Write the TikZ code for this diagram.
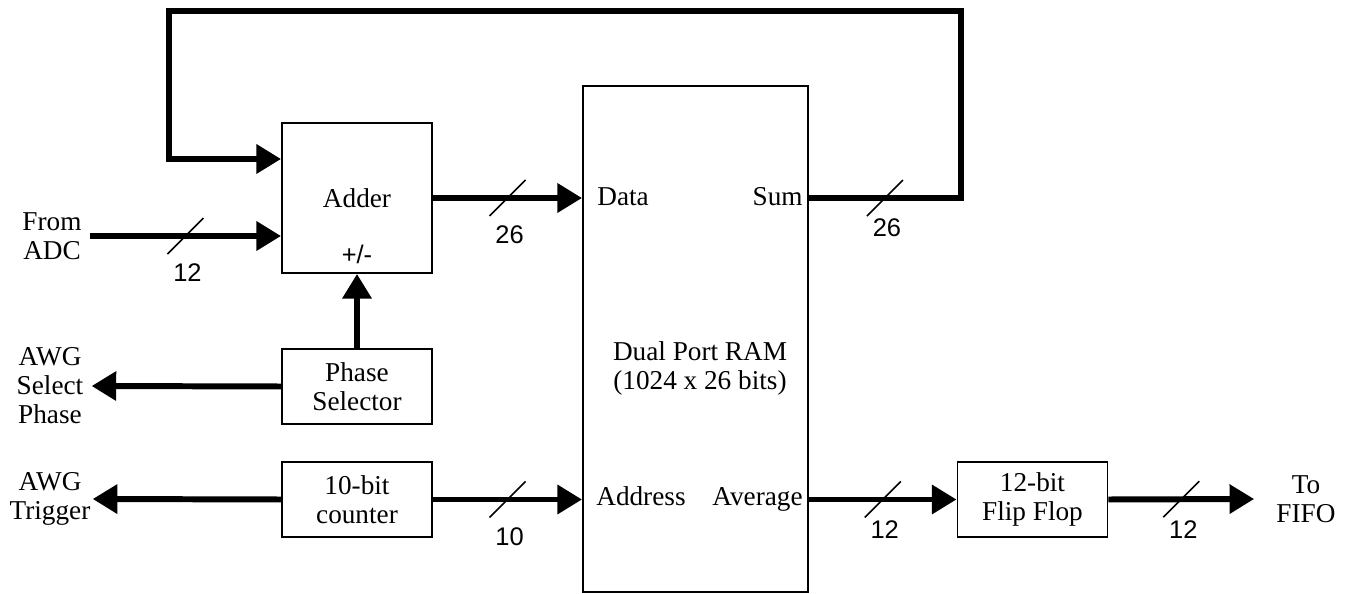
\documentclass[tikz,border=0pt]{standalone}
\usepackage{fontspec}
\setmainfont{Liberation Serif}
\newfontfamily\numfont{Liberation Sans}
\usetikzlibrary{arrows.meta}
\usetikzlibrary{calc}

\begin{document}
\begin{tikzpicture} [x=0.02cm, y=-0.02cm,
  txt/.style={font=\fontsize{15.5}{16.5}\selectfont, align=center, inner sep=0pt},
  box/.style={txt, draw, line width=1.1pt, minimum width=3cm, minimum height=1.5cm},
  bus/.style={line width=3.4pt, -{Triangle[length=14pt,width=16pt]}},
  tick/.style={line width=0.9pt},
  num/.style={font=\numfont\fontsize{14.5}{16}\selectfont, inner sep=0pt}]
\useasboundingbox (0,0) rectangle (1347,594);
% blocks
\node[box, minimum height=3cm] (adder) at (357,198) {Adder};
\node[num] (pm) at (357,254) {+/-};
\node[box] (phase) at (357,386.5) {Phase\\Selector};
\node[box] (counter) at (357,499.5) {10-bit\\counter};
\node[box, minimum width=4.5cm, minimum height=10.12cm] (ram) at (695.5,339) {};
\node[box] (ff) at (1032.5,499.5) {12-bit\\Flip Flop};
% port names and memory text
\node[txt, anchor=base west] (datalbl) at (597,206) {Data};
\node[txt, anchor=base east] (sumlbl) at (803,206) {Sum};
\node[txt, anchor=base west] (addrlbl) at (596,506) {Address};
\node[txt, anchor=base east] (avglbl) at (803,506) {Average};
\node[txt] (ramlbl) at (700,368) {Dual Port RAM\\(1024 x 26 bits)};
% outside signals
\node[txt] (adc) at (52,236) {From\\ADC};
\node[txt] (awgsel) at (50,386) {AWG\\Select\\Phase};
\node[txt] (awgtrg) at (50,499) {AWG\\Trigger};
\node[txt] (fifo) at (1306,499) {To\\FIFO};
\coordinate (ret) at (169,11);
\coordinate (fbin) at ($(adder.west)+(0,-39)$);
% buses
\draw[bus] ($(adc.east)+(8,0)$) -- coordinate (b1) (adc.east -| adder.west);
\draw[bus] (adder.east) -- coordinate (b2) (ram.west |- adder.east);
\draw[bus] (ram.east |- adder.east) -- coordinate (b3) ++(152,0) |- (ret) |- (fbin);
\draw[bus] (counter.east) -- coordinate (b4) (ram.west |- counter.east);
\draw[bus] (ram.east |- ff.west) -- coordinate (b5) (ff.west);
\draw[bus] (ff.east) -- coordinate (b6) ($(fifo.west)+(-22,0)$);
\draw[bus] (phase.north) -- (adder.south);
\draw[bus] (phase.west) -- ($(awgsel.east)+(8,0)$);
\draw[bus] (counter.west) -- ($(awgtrg.east)+(2,0)$);
% bus widths
\foreach \m/\n/\d in {b1/12/37, b2/26/37, b3/26/30, b4/10/37, b5/12/30, b6/12/30} {
 \draw[tick] (\m)+(-18,18) -- +(18,-18);
 \node[num] at ($(\m)+(2,\d)$) {\n};
}
\end{tikzpicture}
\end{document}
